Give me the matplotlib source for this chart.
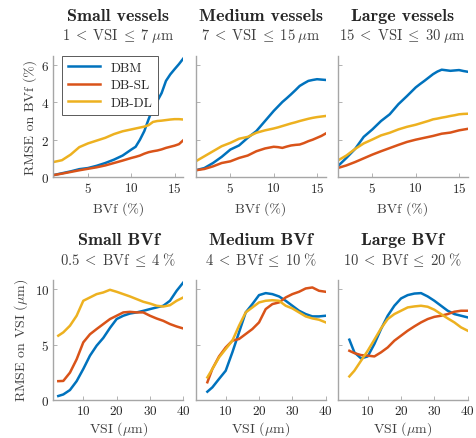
import matplotlib
matplotlib.use('Agg')
import matplotlib.pyplot as plt

plt.rcParams['font.family'] = ['cmr10', 'DejaVu Serif']
plt.rcParams['mathtext.fontset'] = 'cm'
plt.rcParams['axes.formatter.use_mathtext'] = True

# colours (MATLAB default order)
colors = {'DBM': '#0072BD', 'DB-SL': '#D95319', 'DB-DL': '#EDB120'}
methods = ['DBM', 'DB-SL', 'DB-DL']

# ---- top row: RMSE on BVf (%) vs BVf (%) ----
bvf_x = [1, 2, 3, 4, 5, 6, 7, 8, 9, 10, 10.5, 11, 11.5, 12, 12.5, 13, 13.5, 14, 14.5, 15, 15.5, 16]

small_vessels = {
    'DBM':   [0.10, 0.20, 0.30, 0.42, 0.48, 0.60, 0.75, 0.93, 1.15, 1.47, 1.62, 2.00, 2.46, 3.10, 3.70, 4.07, 4.50, 5.15, 5.50, 5.78, 6.05, 6.35],
    'DB-SL': [0.10, 0.18, 0.27, 0.36, 0.44, 0.52, 0.62, 0.75, 0.88, 1.02, 1.08, 1.15, 1.25, 1.33, 1.38, 1.42, 1.48, 1.56, 1.62, 1.68, 1.76, 1.97],
    'DB-DL': [0.80, 0.90, 1.20, 1.60, 1.80, 1.95, 2.10, 2.30, 2.45, 2.55, 2.60, 2.65, 2.70, 2.78, 2.95, 3.00, 3.02, 3.05, 3.08, 3.10, 3.10, 3.08],
}
medium_vessels = {
    'DBM':   [0.36, 0.48, 0.75, 1.08, 1.47, 1.69, 2.10, 2.46, 3.00, 3.54, 3.78, 4.02, 4.22, 4.43, 4.65, 4.88, 5.02, 5.15, 5.20, 5.24, 5.22, 5.20],
    'DB-SL': [0.36, 0.43, 0.57, 0.75, 0.84, 1.02, 1.15, 1.38, 1.53, 1.62, 1.60, 1.56, 1.63, 1.69, 1.72, 1.74, 1.82, 1.92, 2.00, 2.10, 2.20, 2.33],
    'DB-DL': [0.84, 1.11, 1.38, 1.65, 1.83, 2.05, 2.15, 2.37, 2.50, 2.60, 2.66, 2.73, 2.80, 2.87, 2.93, 3.00, 3.06, 3.12, 3.17, 3.21, 3.24, 3.27],
}
large_vessels = {
    'DBM':   [0.57, 1.02, 1.50, 2.15, 2.55, 3.00, 3.36, 3.90, 4.34, 4.80, 4.98, 5.15, 5.33, 5.51, 5.65, 5.75, 5.72, 5.69, 5.71, 5.73, 5.68, 5.64],
    'DB-SL': [0.48, 0.62, 0.80, 1.00, 1.20, 1.38, 1.55, 1.72, 1.88, 2.00, 2.05, 2.10, 2.15, 2.20, 2.26, 2.32, 2.35, 2.38, 2.44, 2.50, 2.54, 2.58],
    'DB-DL': [0.88, 1.15, 1.50, 1.80, 2.01, 2.23, 2.37, 2.55, 2.69, 2.80, 2.87, 2.94, 3.01, 3.09, 3.13, 3.18, 3.22, 3.27, 3.31, 3.36, 3.38, 3.39],
}

# ---- bottom row: RMSE on VSI (um) vs VSI (um) ----
vsi_x_small = [2.5, 4, 6, 8, 10, 12, 14, 16, 18, 20, 22, 24, 26, 28, 30, 32, 34, 36, 38, 40]
small_bvf = {
    'DBM':   [0.36, 0.50, 0.90, 1.70, 2.80, 4.00, 4.90, 5.60, 6.50, 7.30, 7.60, 7.80, 7.90, 8.04, 8.20, 8.35, 8.50, 8.95, 9.85, 10.6],
    'DB-SL': [1.70, 1.72, 2.47, 3.67, 5.20, 5.93, 6.40, 6.85, 7.30, 7.60, 7.90, 7.95, 7.90, 7.90, 7.60, 7.35, 7.14, 6.85, 6.63, 6.45],
    'DB-DL': [5.80, 6.10, 6.70, 7.60, 8.95, 9.25, 9.55, 9.70, 9.94, 9.76, 9.55, 9.34, 9.10, 8.86, 8.70, 8.50, 8.43, 8.55, 8.95, 9.25],
}
vsi_x = [4.5, 6, 8, 10, 12, 14, 16, 18, 20, 22, 24, 26, 28, 30, 32, 34, 36, 38, 40]
medium_bvf = {
    'DBM':   [0.75, 1.14, 1.90, 2.64, 4.30, 6.10, 7.90, 8.65, 9.46, 9.64, 9.55, 9.34, 8.95, 8.50, 8.05, 7.75, 7.54, 7.54, 7.60],
    'DB-SL': [1.60, 2.80, 3.93, 4.74, 5.35, 5.50, 5.95, 6.40, 7.00, 8.20, 8.65, 8.80, 9.25, 9.55, 9.76, 10.06, 10.15, 9.85, 9.76],
    'DB-DL': [2.04, 2.80, 3.84, 4.60, 5.35, 6.70, 7.90, 8.35, 8.80, 8.95, 9.00, 8.95, 8.50, 8.26, 7.90, 7.54, 7.36, 7.24, 7.00],
}
large_bvf = {
    'DBM':   [5.44, 4.30, 3.75, 3.93, 5.05, 6.40, 7.60, 8.50, 9.16, 9.46, 9.60, 9.64, 9.34, 8.95, 8.50, 8.05, 7.75, 7.60, 7.45],
    'DB-SL': [4.44, 4.23, 4.05, 4.00, 3.93, 4.30, 4.74, 5.35, 5.80, 6.25, 6.64, 7.00, 7.30, 7.50, 7.60, 7.75, 7.96, 8.05, 8.05],
    'DB-DL': [2.13, 2.64, 3.54, 4.44, 5.44, 6.46, 7.30, 7.75, 8.05, 8.35, 8.44, 8.50, 8.41, 8.14, 7.75, 7.36, 7.00, 6.55, 6.25],
}

top_titles = ['Small vessels', 'Medium vessels', 'Large vessels']
top_ranges = [r'$1 \;<\; \mathrm{VSI} \;\leq\; 7\;\mu\mathrm{m}$',
              r'$7 \;<\; \mathrm{VSI} \;\leq\; 15\;\mu\mathrm{m}$',
              r'$15 \;<\; \mathrm{VSI} \;\leq\; 30\;\mu\mathrm{m}$']
bot_titles = ['Small BVf', 'Medium BVf', 'Large BVf']
bot_ranges = [r'$0.5 \;<\; \mathrm{BVf} \;\leq\; 4\;\%$',
              r'$4 \;<\; \mathrm{BVf} \;\leq\; 10\;\%$',
              r'$10 \;<\; \mathrm{BVf} \;\leq\; 20\;\%$']

W, H = 477, 439
fig = plt.figure(figsize=(W / 100, H / 100), dpi=100)

lefts = [53.3, 195.7, 337.7]
aw = 130
rows = [(56.7, 178.0), (280.7, 401.0)]  # (top px, bottom px)

spine_col = '#a6a6a6'
text_col = '#262626'


def make_ax(col, row):
    top, bot = rows[row]
    ax = fig.add_axes([lefts[col] / W, 1 - bot / H, aw / W, (bot - top) / H])
    for s in ['top', 'right']:
        ax.spines[s].set_visible(False)
    for s in ['left', 'bottom']:
        ax.spines[s].set_color(spine_col)
        ax.spines[s].set_linewidth(1.0)
    ax.tick_params(direction='in', length=3, width=0.6, color=spine_col,
                   labelcolor=text_col, labelsize=9.5, pad=3)
    return ax


def add_titles(ax, t1, t2):
    h = ax.get_position().height * H
    ax.text(0.5, 1 + 40 / h, t1, transform=ax.transAxes, ha='center', va='center',
            fontsize=13, family=['cmb10', 'DejaVu Serif'], color=text_col)
    ax.text(0.5, 1 + 21 / h, t2, transform=ax.transAxes, ha='center', va='center',
            fontsize=10.5, color='#404040')


top_data = [small_vessels, medium_vessels, large_vessels]
for i, d in enumerate(top_data):
    ax = make_ax(i, 0)
    for m in methods:
        ax.plot(bvf_x, d[m], color=colors[m], lw=1.8, label=m)
    ax.set_xlim(1, 16)
    ax.set_ylim(0, 6.5)
    ax.set_xticks([5, 10, 15])
    ax.set_yticks([0, 2, 4, 6])
    ax.set_xlabel('BVf (%)', fontsize=10, color='#404040', labelpad=4)
    if i == 0:
        ax.set_ylabel('RMSE on BVf (%)', fontsize=10, color='#404040', labelpad=3)
        leg = ax.legend(loc='upper left', bbox_to_anchor=(0.068, 1.0), fontsize=9.5,
                        fancybox=False, framealpha=1, edgecolor='#595959',
                        handlelength=2.4, borderpad=0.45, labelspacing=0.4,
                        borderaxespad=0)
        leg.get_frame().set_linewidth(0.7)
        for t in leg.get_texts():
            t.set_color(text_col)
    else:
        ax.set_yticklabels([])
    add_titles(ax, top_titles[i], top_ranges[i])

bot_data = [(vsi_x_small, small_bvf), (vsi_x, medium_bvf), (vsi_x, large_bvf)]
for i, (xs, d) in enumerate(bot_data):
    ax = make_ax(i, 1)
    for m in methods:
        ax.plot(xs, d[m], color=colors[m], lw=1.8)
    ax.set_xlim(1, 40)
    ax.set_ylim(0, 10.85)
    ax.set_xticks([10, 20, 30, 40])
    ax.set_yticks([0, 5, 10])
    ax.set_xlabel(r'VSI ($\mu$m)', fontsize=10, color='#404040', labelpad=1.5)
    if i == 0:
        ax.set_ylabel(r'RMSE on VSI ($\mu$m)', fontsize=10, color='#404040', labelpad=3)
    else:
        ax.set_yticklabels([])
    add_titles(ax, bot_titles[i], bot_ranges[i])

fig.savefig('out.png', dpi=100)
